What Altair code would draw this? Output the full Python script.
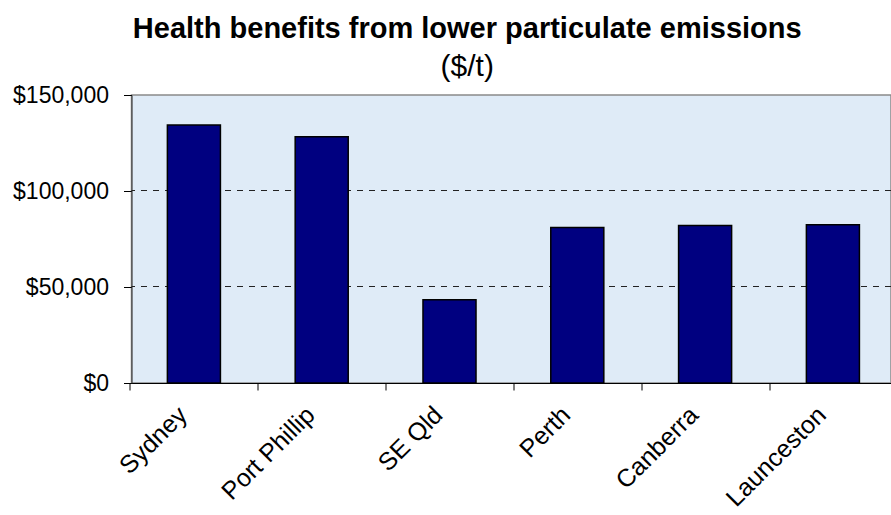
import altair as alt
import pandas as pd

regions = ["Sydney", "Port Phillip", "SE Qld", "Perth", "Canberra", "Launceston"]
benefits = [134400, 128300, 43300, 81000, 82000, 82400]
grid_values = [50000, 100000]
y_ticks = [0, 50000, 100000, 150000]

df = pd.DataFrame({"region": regions, "benefit": benefits})
gdf = pd.DataFrame({"v": grid_values})

FONT = "Liberation Sans"
STEP = 127.8
N = len(regions)
PAD_IN = 0.585

xscale = alt.Scale(domain=regions, range=[-1.5, STEP * N - 1.5], paddingInner=PAD_IN, paddingOuter=PAD_IN / 2)
yscale = alt.Scale(domain=[0, 150000], nice=False)

tick_off = -STEP / 2

bars = alt.Chart(df).mark_bar(color="#000080", stroke="black", strokeWidth=1.5).encode(
    x=alt.X("region:N", scale=xscale, sort=regions,
            axis=alt.Axis(title=None, tickOffset=tick_off,
                          labelAngle=315, labelAlign="right",
                          labelBaseline="top", labelFontSize=25, labelFont=FONT, labelColor="black",
                          labelPadding=12, labelOffset=-tick_off - 20, tickSize=7, tickColor="black",
                          domainColor="black", grid=False, labelLimit=300)),
    y=alt.Y("benefit:Q", scale=yscale,
            axis=alt.Axis(title=None, values=y_ticks, format="$,.0f", labelFontSize=23, labelFont=FONT,
                          labelColor="black", tickSize=8, tickColor="black", domainColor="#333333",
                          labelPadding=15, grid=False)),
)

grid = alt.Chart(gdf).mark_rule(color="#222222", strokeDash=[6, 6], strokeWidth=1, yOffset=-0.5).encode(
    y=alt.Y("v:Q", scale=yscale)
)

chart = alt.layer(grid, bars).properties(
    width=759.5,
    height=288,
    autosize=alt.AutoSizeParams(type="none"),
    padding={"left": 131.5, "top": 95, "right": 0, "bottom": 132},
    title=alt.Title(
        text="Health benefits from lower particulate emissions",
        subtitle="($/t)",
        font=FONT, fontSize=29, fontWeight="bold", color="black",
        subtitleFont=FONT, subtitleFontSize=30, subtitleColor="black",
        anchor="middle", dx=-44, offset=2, subtitlePadding=8,
    ),
).configure_view(fill="#dfebf7", stroke="#8a8a8a", strokeWidth=1.5)

chart.save("out.html", embed_options={"renderer": "svg", "actions": False})
